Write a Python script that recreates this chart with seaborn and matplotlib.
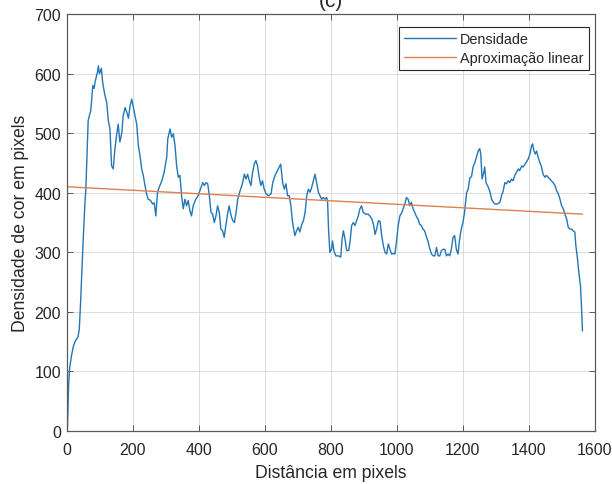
import numpy as np
import pandas as pd
import matplotlib
matplotlib.use("Agg")
import matplotlib.pyplot as plt
import seaborn as sns

# ---- data: (distance, density) pairs by region ----
profile_0_300 = [(2, 0), (4, 40), (6, 80), (9, 105), (14, 125), (20, 142), (27, 152), (34, 158), (38, 170),
                 (42, 215), (45, 255), (50, 322), (55, 380), (58, 406), (62, 470), (65, 521), (69, 530),
                 (73, 538), (76, 560), (79, 580), (83, 575), (86, 586), (90, 595), (93, 602), (96, 613),
                 (99, 600), (101, 602), (105, 609), (109, 585), (112, 575), (116, 563), (121, 552),
                 (126, 521), (131, 507), (136, 445), (141, 440), (146, 473), (151, 496), (156, 515),
                 (161, 485), (167, 501), (171, 529), (177, 543), (182, 535), (187, 525), (192, 546),
                 (197, 557), (202, 543), (207, 529), (212, 515), (217, 479), (222, 462), (227, 440),
                 (232, 429), (237, 412), (242, 398), (247, 389), (254, 387), (260, 381), (265, 383),
                 (270, 361), (275, 401), (280, 409), (288, 420), (295, 434)]
profile_300_600 = [(303, 460), (306, 490), (313, 507), (318, 493), (323, 499), (328, 479), (333, 445),
                   (338, 426), (343, 429), (348, 395), (353, 373), (358, 389), (363, 378), (368, 387),
                   (373, 370), (378, 361), (383, 378), (391, 389), (398, 395), (407, 409), (412, 417),
                   (417, 412), (422, 417), (427, 415), (432, 395), (437, 367), (442, 364), (447, 350),
                   (452, 361), (457, 378), (462, 367), (467, 339), (472, 336), (477, 325), (482, 345),
                   (488, 367), (492, 378), (498, 361), (503, 353), (508, 350), (513, 367), (518, 389),
                   (525, 403), (532, 415), (538, 431), (543, 423), (548, 431), (553, 420), (558, 412),
                   (563, 434), (568, 448), (573, 454), (578, 445), (583, 426), (588, 412), (593, 420),
                   (598, 406)]
profile_600_900 = [(604, 398), (611, 395), (619, 398), (624, 417), (631, 429), (641, 440), (648, 448),
                   (654, 417), (659, 406), (664, 415), (669, 395), (674, 395), (679, 378), (684, 350),
                   (691, 328), (696, 336), (701, 342), (706, 334), (712, 347), (717, 353), (722, 367),
                   (727, 395), (732, 406), (737, 401), (742, 409), (747, 420), (752, 431), (757, 417),
                   (762, 401), (767, 395), (772, 389), (777, 392), (782, 389), (787, 392), (790, 387),
                   (793, 339), (797, 300), (802, 305), (805, 319), (809, 303), (815, 294), (823, 294),
                   (830, 292), (834, 322), (838, 336), (843, 322), (848, 303), (854, 303), (858, 317),
                   (863, 345), (868, 350), (873, 345), (878, 353), (883, 361), (888, 373), (893, 378),
                   (898, 367)]
profile_900_1200 = [(906, 364), (913, 364), (918, 361), (924, 356), (929, 347), (934, 330), (939, 340),
                    (944, 353), (949, 352), (954, 328), (959, 311), (964, 300), (969, 297), (974, 314),
                    (979, 305), (984, 297), (989, 298), (994, 297), (999, 319), (1004, 345), (1009, 361),
                    (1015, 367), (1020, 375), (1024, 381), (1029, 392), (1034, 389), (1039, 378),
                    (1044, 384), (1049, 373), (1054, 367), (1060, 359), (1064, 356), (1069, 347),
                    (1074, 345), (1079, 339), (1084, 336), (1090, 325), (1094, 319), (1100, 305),
                    (1105, 297), (1110, 294), (1115, 294), (1120, 308), (1125, 294), (1130, 294),
                    (1135, 303), (1140, 305), (1145, 305), (1150, 294), (1155, 297), (1160, 294),
                    (1165, 305), (1170, 325), (1175, 328), (1180, 305), (1185, 297), (1190, 322),
                    (1195, 339)]
profile_1200_end = [(1200, 350), (1205, 367), (1211, 400), (1216, 406), (1221, 425), (1226, 427),
                    (1231, 444), (1236, 450), (1241, 460), (1246, 470), (1251, 474), (1254, 465),
                    (1258, 423), (1263, 434), (1266, 443), (1270, 417), (1277, 409), (1282, 401),
                    (1287, 389), (1292, 384), (1297, 381), (1304, 381), (1312, 384), (1317, 395),
                    (1322, 403), (1327, 417), (1332, 415), (1337, 420), (1342, 417), (1347, 423),
                    (1352, 420), (1357, 429), (1362, 434), (1368, 440), (1372, 437), (1378, 445),
                    (1382, 443), (1388, 448), (1392, 451), (1398, 457), (1403, 465), (1408, 479),
                    (1411, 482), (1415, 470), (1419, 465), (1423, 470), (1428, 459), (1433, 451),
                    (1438, 443), (1443, 431), (1448, 426), (1453, 429), (1458, 426), (1463, 423),
                    (1468, 420), (1473, 417), (1479, 412), (1484, 403), (1489, 398), (1494, 389),
                    (1499, 378), (1504, 373), (1509, 364), (1514, 356), (1519, 342), (1524, 339),
                    (1529, 339), (1534, 336), (1539, 334), (1542, 311), (1546, 294), (1551, 266),
                    (1556, 244), (1559, 210), (1562, 168)]

fit_x = [0, 1562]
fit_y = [410, 364]

x_ticks = [0, 200, 400, 600, 800, 1000, 1200, 1400, 1600]
y_ticks = [0, 100, 200, 300, 400, 500, 600, 700]

series_names = ["Densidade", "Aproximação linear"]

profile = profile_0_300 + profile_300_600 + profile_600_900 + profile_900_1200 + profile_1200_end
df = pd.DataFrame(profile, columns=["x", "y"])
df_fit = pd.DataFrame({"x": fit_x, "y": fit_y})

# ---- plotting ----
sns.set_theme(style="white")
plt.rcParams["font.family"] = ["Liberation Sans", "DejaVu Sans"]

fig = plt.figure(figsize=(6.12, 4.85), dpi=100)
ax = fig.add_axes([66.7 / 612, 1 - 432 / 485, (595 - 66.7) / 612, (432 - 15) / 485])

sns.lineplot(data=df, x="x", y="y", ax=ax, color="#2277B6", linewidth=1.0,
             label=series_names[0], sort=False, estimator=None)
sns.lineplot(data=df_fit, x="x", y="y", ax=ax, color="#DE8050", linewidth=1.0,
             label=series_names[1], sort=False, estimator=None)

ax.set_xlim(0, 1600)
ax.set_ylim(0, 700)
ax.set_xticks(x_ticks)
ax.set_yticks(y_ticks)
ax.set_xticklabels([str(t) for t in x_ticks])
ax.set_yticklabels([str(t) for t in y_ticks])

tc = "#262626"
ax.grid(True, color="#DCDCDC", linewidth=0.7)
ax.set_axisbelow(True)
for s in ax.spines.values():
    s.set_visible(True)
    s.set_color("#5A5A5A")
    s.set_linewidth(0.9)
ax.tick_params(axis="both", which="both", direction="in", length=4, width=0.7,
               colors="#5A5A5A", labelcolor=tc, labelsize=11.5,
               top=True, right=True, bottom=True, left=True, pad=4)
ax.tick_params(axis="x", pad=8)

ax.set_xlabel("Distância em pixels", fontsize=12.7, color=tc, labelpad=5)
ax.set_ylabel("Densidade de cor em pixels", fontsize=12.7, color=tc, labelpad=4)

leg = ax.legend(loc="upper right", bbox_to_anchor=(0.988, 0.969), fontsize=10.4,
                frameon=True, fancybox=False, framealpha=1, edgecolor="#262626",
                handlelength=3.6, handletextpad=0.3, borderpad=0.35, labelspacing=0.35,
                borderaxespad=0)
leg.get_frame().set_linewidth(0.8)
for t in leg.get_texts():
    t.set_color(tc)

fig.text(331 / 612, 1 - 7 / 485, "(c)", ha="center", va="baseline", fontsize=15, color=tc)

fig.savefig("out.png", dpi=100)
